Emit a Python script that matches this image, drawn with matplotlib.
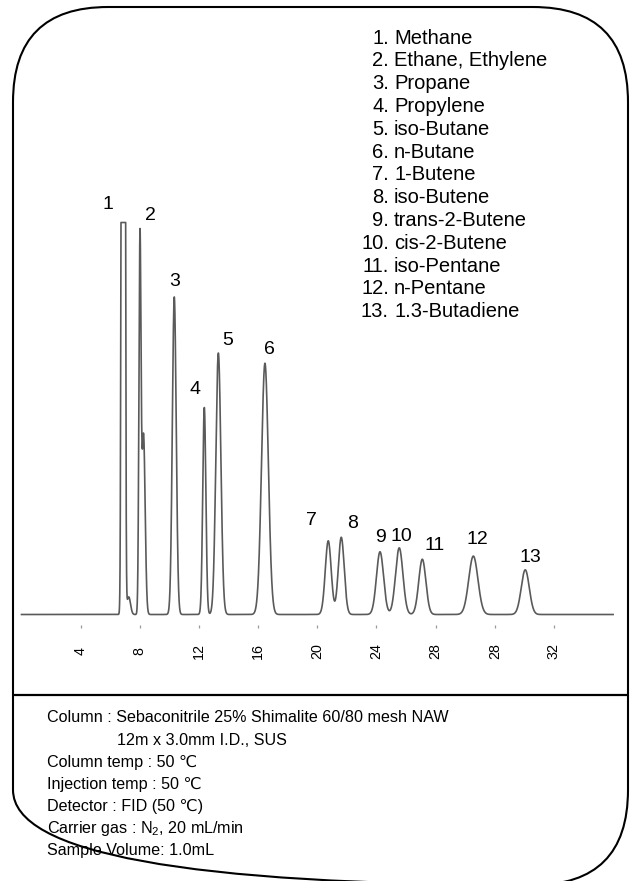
import numpy as np
import matplotlib
matplotlib.use("Agg")
import matplotlib.pyplot as plt
from matplotlib.patches import FancyBboxPatch

plt.rcParams["font.family"] = ["Liberation Sans", "DejaVu Sans"]
plt.rcParams["mathtext.fontset"] = "custom"
plt.rcParams["mathtext.rm"] = "Liberation Sans"
plt.rcParams["mathtext.it"] = "Liberation Sans:italic"

# ---- peak table: retention time (min), height (% full scale), sigma (min)
peak_times = [6.88, 7.25, 8.01, 8.25, 10.33, 12.36, 13.31, 16.46,
              20.74, 21.62, 24.24, 25.54, 27.10, 30.55, 34.06]
peak_heights = [1500, 4.5, 94, 46, 81, 52.8, 66.7, 64.1,
                18.8, 19.7, 16.0, 17.0, 14.1, 14.9, 11.4]
peak_sigmas = [0.07, 0.12, 0.07, 0.11, 0.13, 0.105, 0.17, 0.23,
               0.20, 0.20, 0.24, 0.25, 0.24, 0.31, 0.27]
full_scale = 100.0

# numbered peaks -> row in the peak table
label_numbers = ["1", "2", "3", "4", "5", "6", "7", "8", "9", "10", "11", "12", "13"]
label_rows = [0, 2, 4, 5, 6, 7, 8, 9, 10, 11, 12, 13, 14]

compounds = ["Methane", "Ethane, Ethylene", "Propane", "Propylene", "iso-Butane",
             "n-Butane", "1-Butene", "iso-Butene", "trans-2-Butene", "cis-2-Butene",
             "iso-Pentane", "n-Pentane", "1.3-Butadiene"]

tick_values = [4, 8, 12, 16, 20, 24, 28, 32, 36]
tick_labels = ["4", "8", "12", "16", "20", "24", "28", "28", "32"]

conditions = [
    "Column : Sebaconitrile 25% Shimalite 60/80 mesh NAW",
    "12m x 3.0mm I.D., SUS",
    "Column temp : 50 \u2103",
    "Injection temp : 50 \u2103",
    "Detector : FID (50 \u2103)",
    "Carrier gas : N$_2$, 20 mL/min",
    "Sample Volume: 1.0mL",
]

# ---- figure
W, H = 630, 881
fig = plt.figure(figsize=(W / 100, H / 100), dpi=100)

# page layer in pixel units (frame, compound list, conditions)
page = fig.add_axes([0, 0, 1, 1])
page.set_xlim(0, W)
page.set_ylim(H, 0)
page.axis("off")

frame = FancyBboxPatch((13, 7), 615, 878,
                       boxstyle="round,pad=0,rounding_size=95",
                       fill=False, ec="black", lw=1.5)
page.add_patch(frame)
page.plot([13, 628], [694.5, 694.5], color="black", lw=1.6, solid_capstyle="butt")

# compound list
for i, name in enumerate(compounds):
    y = 38 + i * 22.8
    page.text(389, y, f"{i + 1}.", ha="right", va="center", fontsize=14.5)
    page.text(394, y, name, ha="left", va="center", fontsize=14.5)

# analysis conditions
cond_x = [47, 117, 47, 47, 47, 47, 47]
for i, line in enumerate(conditions):
    page.text(cond_x[i], 718 + i * 22.1, line, ha="left", va="center",
              fontsize=11.6)

# ---- chromatogram
x0, x1 = 21.5, 613.1
y_base, y_top = 614.5, 222.5
ax = fig.add_axes([x0 / W, (H - y_base) / H, (x1 - x0) / W, (y_base - y_top) / H])
ax.patch.set_visible(False)
ax.set_xlim(0, 40)
ax.set_ylim(0, full_scale)

t = np.linspace(0, 40, 16001)
signal = np.zeros_like(t)
for rt, h, s in zip(peak_times, peak_heights, peak_sigmas):
    signal += h * np.exp(-0.5 * ((t - rt) / s) ** 2)
signal = np.minimum(signal, full_scale)
ax.plot(t, signal, color="#5a5a5a", lw=1.2, clip_on=False)

# peak numbers
label_offsets = [(-15, 17.7), (10, 13.4), (0, 15.6), (-9.3, 17.7), (9.4, 12.6),
                 (4, 14), (-16.6, 20), (11, 14), (0, 14.7), (2.4, 11.7),
                 (12.7, 13.3), (4.4, 17), (5.4, 12.7)]
for num, row, off in zip(label_numbers, label_rows, label_offsets):
    rt = peak_times[row]
    top = float(np.interp(rt, t, signal))
    ax.annotate(num, xy=(rt, top), xytext=off, textcoords="offset pixels",
                ha="center", va="center", fontsize=14, annotation_clip=False)

for side in ("top", "right", "left", "bottom"):
    ax.spines[side].set_visible(False)
ax.spines["bottom"].set_position(("outward", 7.2))
ax.set_yticks([])
ax.set_xticks(tick_values)
ax.set_xticklabels(tick_labels, rotation=90, va="center", fontsize=10.3)
ax.tick_params(axis="x", direction="out", length=2.2, width=0.9,
               color="#9a9a9a", pad=17)

fig.savefig("out.png", dpi=100)
